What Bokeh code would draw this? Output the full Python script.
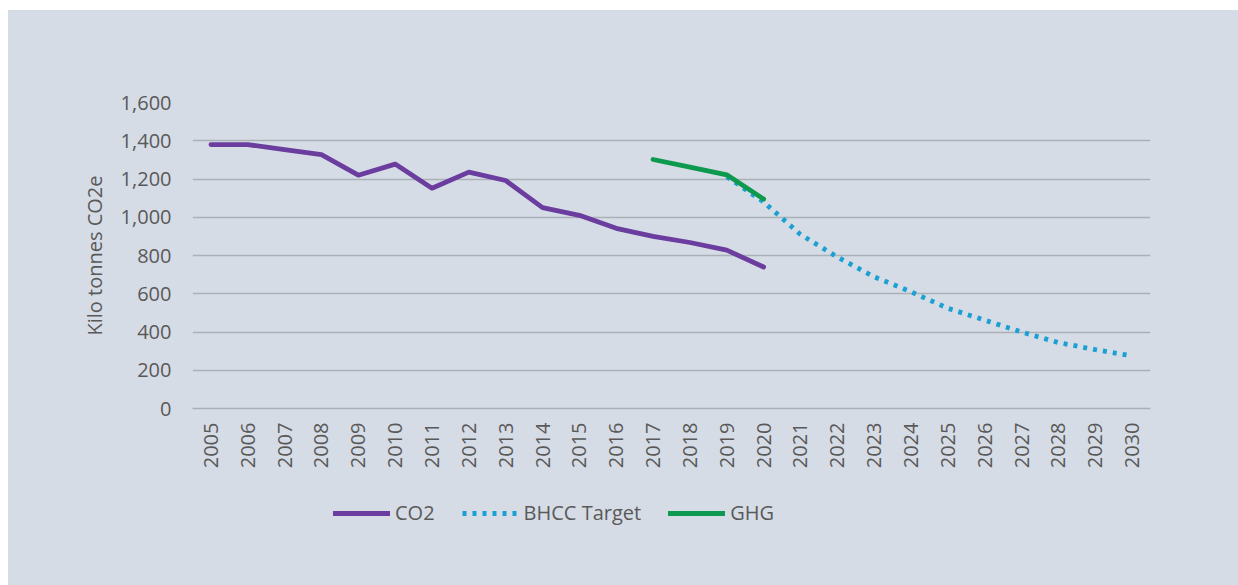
import math
from bokeh.plotting import figure
from bokeh.layouts import column
from bokeh.models import (FactorRange, Range1d, FixedTicker, NumeralTickFormatter,
                          Legend, LegendItem)
from bokeh.embed import file_html
from bokeh.resources import INLINE

years = [str(y) for y in range(2005, 2031)]

co2_years = [str(y) for y in range(2005, 2021)]
co2_values = [1380, 1380, 1353, 1327, 1220, 1278, 1152, 1236, 1192, 1050,
              1010, 942, 900, 868, 828, 740]

ghg_years = ["2017", "2018", "2019", "2020"]
ghg_values = [1302, 1262, 1222, 1095]

target_years = [str(y) for y in range(2019, 2031)]
target_values = [1212, 1080, 910, 792, 688, 610, 524, 462, 400, 345, 308, 275]

y_ticks = [0, 200, 400, 600, 800, 1000, 1200, 1400, 1600]

series_names = ["CO2", "BHCC Target", "GHG"]
series_colors = ["#6a3d9f", "#1aa0d2", "#0e9a4e"]

BG = "#d6dce5"
TXT = "#595959"
FONT = "Open Sans"
LW = 4.8


def draw_series(fig, visible=True):
    a = fig.line(co2_years, co2_values, line_color=series_colors[0], line_width=LW,
                 line_join="round", line_cap="round", visible=visible)
    b = fig.line(target_years, target_values, line_color=series_colors[1],
                 line_width=LW, line_dash="4 6", line_cap="butt", visible=visible)
    c = fig.line(ghg_years, ghg_values, line_color=series_colors[2], line_width=LW,
                 line_join="round", line_cap="round", visible=visible)
    return a, b, c


p = figure(width=1230, height=480, x_range=FactorRange(*years, range_padding=0),
           y_range=Range1d(0, 1600), output_backend="svg", toolbar_location=None,
           min_border_left=184, min_border_right=88, min_border_top=92,
           min_border_bottom=82)
p.background_fill_color = BG
p.border_fill_color = BG
p.outline_line_color = None

draw_series(p)

p.xgrid.grid_line_color = None
p.ygrid.grid_line_color = "#aab0b8"
p.ygrid.grid_line_width = 1.6
p.yaxis.ticker = FixedTicker(ticks=y_ticks)
p.yaxis.formatter = NumeralTickFormatter(format="0,0")

for ax in (p.xaxis[0], p.yaxis[0]):
    ax.major_tick_line_color = None
    ax.minor_tick_line_color = None
    ax.major_tick_out = 0
    ax.major_tick_in = 0
    ax.major_label_text_font = FONT
    ax.major_label_text_color = TXT

p.yaxis.axis_line_color = None
p.yaxis.major_label_text_font_size = "20px"
p.yaxis.major_label_standoff = 21
p.yaxis.axis_label = "Kilo tonnes CO2e"
p.yaxis.axis_label_text_font = FONT
p.yaxis.axis_label_text_font_size = "20px"
p.yaxis.axis_label_text_font_style = "normal"
p.yaxis.axis_label_text_color = TXT
p.yaxis.axis_label_standoff = 10

p.xaxis.axis_line_color = "#aab0b8"
p.xaxis.axis_line_width = 1.6
p.xaxis.major_label_orientation = math.pi / 2
p.xaxis.major_label_text_font_size = "20px"
p.xaxis.major_label_standoff = 14

# legend strip below the chart
q = figure(width=1230, height=95, x_range=FactorRange(*years, range_padding=0),
           y_range=Range1d(0, 1600), output_backend="svg", toolbar_location=None,
           x_axis_location=None, y_axis_location=None,
           min_border_left=184, min_border_right=88, min_border_top=0,
           min_border_bottom=0)
q.background_fill_alpha = 0
q.border_fill_color = BG
q.outline_line_color = None
q.grid.grid_line_color = None

l1, l2, l3 = draw_series(q, visible=False)

legend = Legend(items=[LegendItem(label=series_names[0], renderers=[l1]),
                       LegendItem(label=series_names[1], renderers=[l2]),
                       LegendItem(label=series_names[2], renderers=[l3])],
                orientation="horizontal", location=(141, 59),
                glyph_width=57, glyph_height=20, label_standoff=5, spacing=27,
                padding=0, margin=0, border_line_color=None,
                background_fill_alpha=0, inactive_fill_alpha=0,
                label_text_font=FONT, label_text_font_size="20px",
                label_text_color=TXT)
q.add_layout(legend, "center")

layout = column(p, q, spacing=0)
layout.margin = (10, 0, 0, 8)
layout.styles = {"background-color": BG}

open("out.html", "w").write(file_html(layout, INLINE))
